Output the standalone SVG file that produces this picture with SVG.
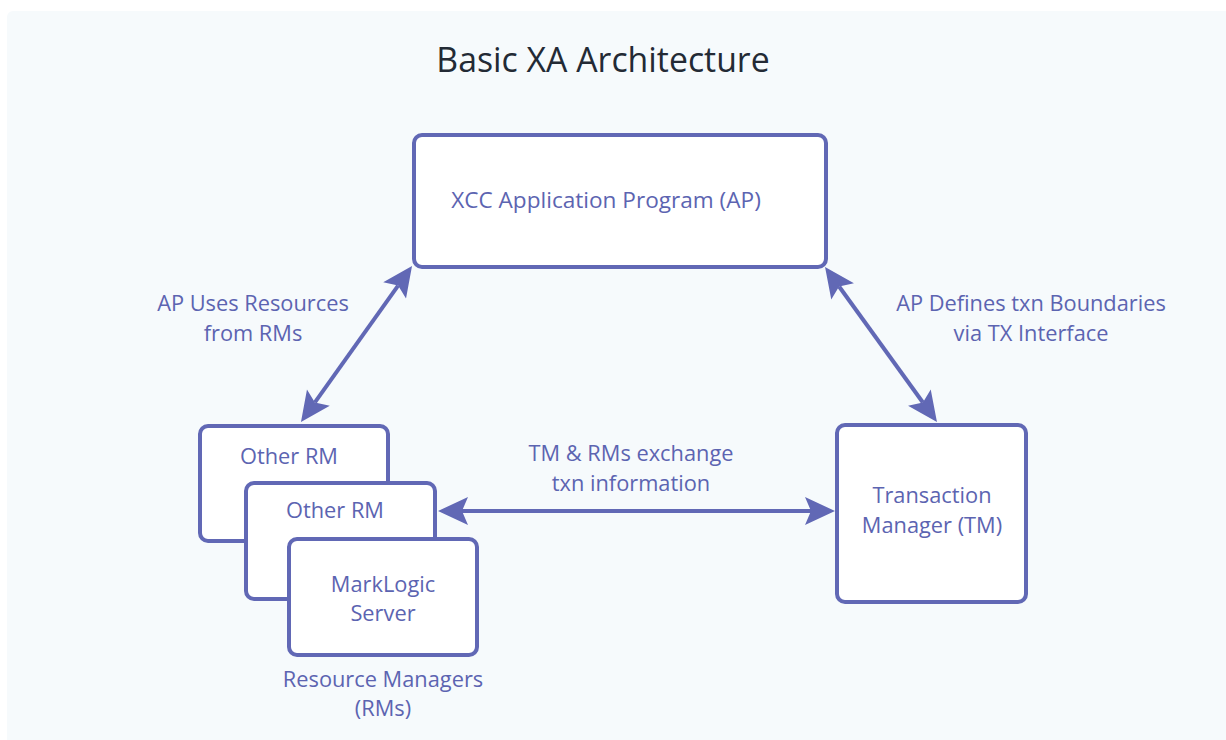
<svg xmlns="http://www.w3.org/2000/svg" width="1226" height="740" viewBox="0 0 1226 740">
  <style>
    .box { fill: #ffffff; stroke: #6168b5; stroke-width: 4; }
    .lbl { font-family: "Open Sans", "Noto Sans", sans-serif; font-size: 21.8px; fill: #5c64b1; text-anchor: middle; }
    .title { font-family: "Open Sans", "Noto Sans", sans-serif; font-size: 33.8px; fill: #232a35; text-anchor: middle; }
    .link { stroke: #6168b5; stroke-width: 4; fill: none; marker-start: url(#head); marker-end: url(#head); }
  </style>
  <defs>
    <marker id="head" markerUnits="userSpaceOnUse" viewBox="-1 -15 32 30" markerWidth="32" markerHeight="30" refX="6" refY="0" orient="auto-start-reverse">
      <path d="M0,-14 L30,0 L0,14 L6,0 Z" fill="#6168b5"/>
    </marker>
  </defs>

  <!-- page and panel -->
  <rect x="0" y="0" width="1226" height="740" fill="#ffffff"/>
  <rect x="7" y="11" width="1240" height="760" rx="6" fill="#f6fafc"/>

  <text class="title" x="603" y="72">Basic XA Architecture</text>

  <!-- connectors -->
  <g id="connectors">
    <line class="link" x1="398.1" y1="285.6" x2="314.9" y2="402.4"/>
    <line class="link" x1="839.1" y1="286.5" x2="922.9" y2="402.5"/>
    <line class="link" x1="462" y1="511" x2="811" y2="511"/>
    <text class="lbl" x="253" y="311">AP Uses Resources</text>
    <text class="lbl" x="253" y="341">from RMs</text>
    <text class="lbl" x="1031" y="311">AP Defines txn Boundaries</text>
    <text class="lbl" x="1031" y="341">via TX Interface</text>
    <text class="lbl" x="631" y="461">TM &amp; RMs exchange</text>
    <text class="lbl" x="631" y="491">txn information</text>
  </g>

  <g id="ap">
    <rect class="box" x="414" y="135" width="412" height="132" rx="8"/>
    <text class="lbl" x="606" y="208" style="font-size:22.6px">XCC Application Program (AP)</text>
  </g>

  <g id="rm-other-1">
    <rect class="box" x="200" y="426" width="188" height="115" rx="8"/>
    <text class="lbl" x="289" y="464">Other RM</text>
  </g>

  <g id="rm-other-2">
    <rect class="box" x="246" y="483" width="189" height="116" rx="8"/>
    <text class="lbl" x="335" y="518">Other RM</text>
  </g>

  <g id="rm-marklogic">
    <rect class="box" x="289" y="539" width="188" height="116" rx="8"/>
    <text class="lbl" x="383" y="592">MarkLogic</text>
    <text class="lbl" x="383" y="621">Server</text>
  </g>

  <g id="rm-caption">
    <text class="lbl" x="383" y="687">Resource Managers</text>
    <text class="lbl" x="383" y="716">(RMs)</text>
  </g>

  <g id="tm">
    <rect class="box" x="837" y="425" width="189" height="177" rx="8"/>
    <text class="lbl" x="932" y="503">Transaction</text>
    <text class="lbl" x="932" y="533">Manager (TM)</text>
  </g>
</svg>
